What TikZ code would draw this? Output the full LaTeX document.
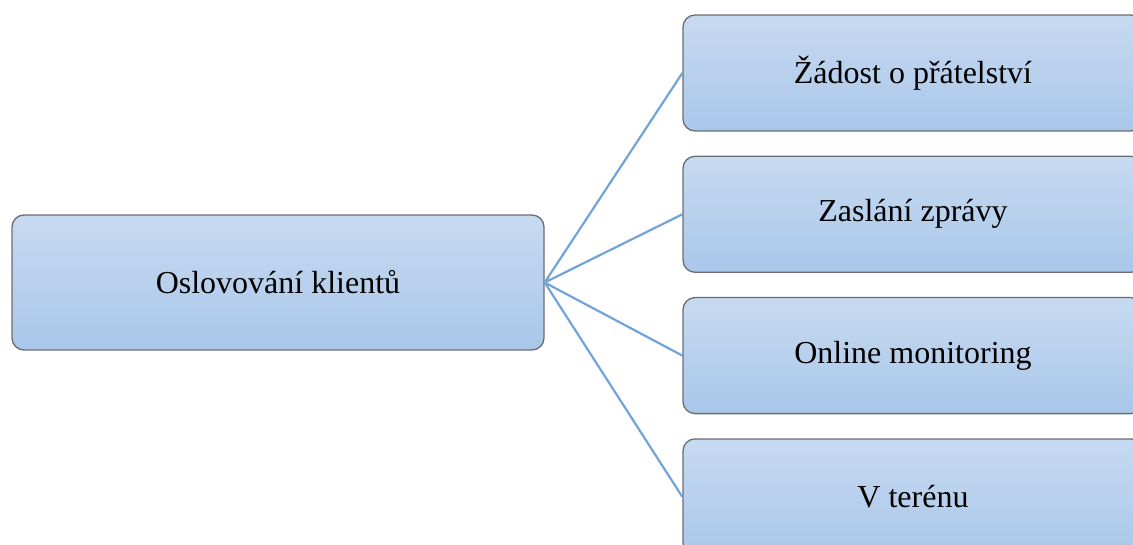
\documentclass[tikz,border=0pt]{standalone}
\usepackage{fontspec}
\setmainfont{Liberation Serif}
\usetikzlibrary{positioning}
\definecolor{boxtop}{HTML}{C7DAF0}
\definecolor{boxbottom}{HTML}{A9C7EA}
\definecolor{boxline}{HTML}{6A6E74}
\definecolor{linkline}{HTML}{72A3D9}
\tikzset{
  every box/.style={draw=boxline,line width=1.3pt,rounded corners=12pt,
    top color=boxtop,bottom color=boxbottom,inner sep=0pt,
    font=\fontsize{32pt}{36pt}\selectfont},
  mainbox/.style={every box,minimum width=532pt,minimum height=135pt},
  subbox/.style={every box,minimum width=460pt,minimum height=116pt},
  link/.style={draw=linkline,line width=2.2pt},
}

\begin{document}
\begin{tikzpicture}[x=1pt,y=1pt]
\useasboundingbox (0,0) rectangle (1133,-545);
\clip (0,0) rectangle (1133,-545);
\node[mainbox] (main) at (278,-282.5) {Oslovování klientů};
\node[subbox] (sub1) at (913,-73) {Žádost o přátelství};
\node[subbox,below=24pt of sub1] (sub2) {Zaslání zprávy};
\node[subbox,below=24pt of sub2] (sub3) {Online monitoring};
\node[subbox,below=24pt of sub3] (sub4) {V terénu};
\foreach \i in {1,...,4}
  \draw[link] (main.east) -- (sub\i.west);
\end{tikzpicture}
\end{document}
